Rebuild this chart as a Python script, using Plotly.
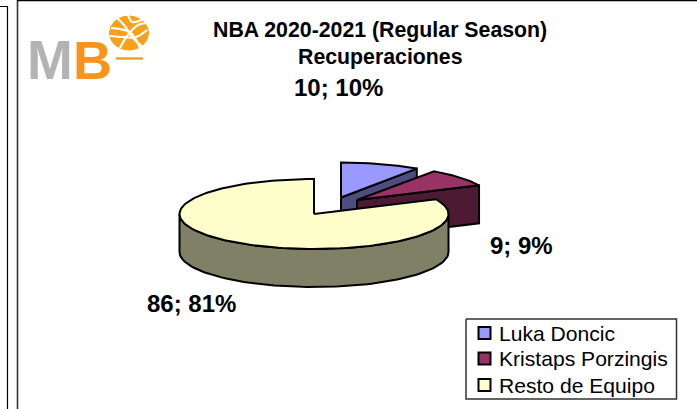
import numpy as np
import plotly.graph_objects as go

categories = ["Luka Doncic", "Kristaps Porzingis", "Resto de Equipo"]
values = [10, 9, 86]
percent_labels = ["10%", "9%", "81%"]

top_colors = ["#9999FF", "#993366", "#FFFFCC"]
side_colors = ["#4D4D80", "#4D1A33", "#808066"]
centers = [(341, 197.5), (357, 200), (314, 214)]
label_pos = [(338, 87), (521, 245), (191, 303)]
legend_rows = [333, 358.5, 385]
RX, RY, DEPTH = 134.5, 35, 38
FONT = "Liberation Sans"

fig = go.Figure()


def pt(c, deg, dz=0):
    t = np.radians(deg)
    return c[0] + RX * np.sin(t), c[1] - RY * np.cos(t) + dz


def poly(xs, ys, fill):
    fig.add_trace(go.Scatter(
        x=xs, y=ys, mode="lines", fill="toself", fillcolor=fill,
        line=dict(color="black", width=2), showlegend=False, hoverinfo="skip"))


total = sum(values)
edges = np.concatenate([[0], np.cumsum(values)]) * 360 / total
for i, cat in enumerate(categories):
    a, b, c = edges[i], edges[i + 1], centers[i]
    ex, ey = pt(c, b)
    if i < 2:
        poly([c[0], ex, ex, c[0], c[0]],
             [c[1], ey, ey + DEPTH, c[1] + DEPTH, c[1]], side_colors[i])
    lo, hi = max(a, 90), min(b, 270)
    if hi > lo:
        th = np.linspace(lo, hi, 90)
        up = [pt(c, d) for d in th]
        dn = [pt(c, d, DEPTH) for d in th[::-1]]
        pts = up + dn + [up[0]]
        poly([p[0] for p in pts], [p[1] for p in pts], side_colors[i])
    th = np.linspace(a, b, 180)
    rim = [pt(c, d) for d in th]
    poly([c[0]] + [p[0] for p in rim] + [c[0]],
         [c[1]] + [p[1] for p in rim] + [c[1]], top_colors[i])

# logo ball
th = np.linspace(0, 2 * np.pi, 80)
fig.add_trace(go.Scatter(x=129 + 19.5 * np.cos(th), y=33 + 17 * np.sin(th), mode="lines",
                         fill="toself", fillcolor="#F7A11A", line=dict(color="#F7A11A", width=1),
                         showlegend=False, hoverinfo="skip"))
seams = [
    ([117, 124, 133, 143], [18, 25, 38, 47]),
    ([111, 120, 131, 140], [28, 29, 33, 48]),
    ([110, 122, 136, 147], [36, 37, 37, 30]),
    ([120, 127, 138, 146], [48, 36, 25, 23]),
    ([128, 132, 139, 143], [15, 22, 21, 19]),
]
for sx, sy in seams:
    fig.add_trace(go.Scatter(x=sx, y=sy, mode="lines", line=dict(color="white", width=2.2, shape="spline"),
                             showlegend=False, hoverinfo="skip"))
fig.add_trace(go.Scatter(x=[116, 143], y=[58.5, 58.5], mode="lines", line=dict(color="#F7A11A", width=2.5),
                         showlegend=False, hoverinfo="skip"))

# page frames
for xs, ys, col, w in [([0, 7.5, 7.5], [6.5, 6.5, 409], "black", 1.2),
                       ([17.5, 17.5], [409, 0], "#333333", 1.6),
                       ([17.5, 697], [0.5, 0.5], "black", 1.6)]:
    fig.add_trace(go.Scatter(x=xs, y=ys, mode="lines", line=dict(color=col, width=w),
                             showlegend=False, hoverinfo="skip"))

# legend box
fig.add_trace(go.Scatter(x=[466, 676.5, 676.5, 466, 466], y=[319, 319, 399, 399, 319], mode="lines",
                         line=dict(color="#333333", width=1.5), showlegend=False, hoverinfo="skip"))
for cat, col, row in zip(categories, top_colors, legend_rows):
    fig.add_trace(go.Scatter(x=[484.5], y=[row], mode="markers", name=cat, showlegend=False, hoverinfo="skip",
                             marker=dict(symbol="square", size=12, color=col, line=dict(color="black", width=2))))

ann = [dict(x=380, y=30, text="<b>NBA 2020-2021 (Regular Season)</b>", font=dict(size=21.3, family=FONT, color="black")),
       dict(x=380, y=57, text="<b>Recuperaciones</b>", font=dict(size=21.3, family=FONT, color="black"))]
for (x, y), v, p in zip(label_pos, values, percent_labels):
    ann.append(dict(x=x, y=y, text="<b>%d; %s</b>" % (v, p), font=dict(size=24, family=FONT, color="black")))
ann.append(dict(x=50, y=60, text="<b>M</b>", font=dict(size=55, family=FONT, color="#B3B3B3")))
ann.append(dict(x=92, y=60, text="<b>B</b>", font=dict(size=54, family=FONT, color="#F7941D")))
for a in ann:
    a.update(xanchor="center")
for cat, row in zip(categories, legend_rows):
    ann.append(dict(x=497, y=row, text=cat, xanchor="left", font=dict(size=21.1, family=FONT, color="black")))
for a in ann:
    a.update(xref="x", yref="y", showarrow=False, yanchor="middle")

fig.update_layout(
    width=697, height=409, margin=dict(l=0, r=0, t=0, b=0),
    paper_bgcolor="white", plot_bgcolor="white", annotations=ann, showlegend=False,
    xaxis=dict(range=[0, 697], visible=False, fixedrange=True),
    yaxis=dict(range=[409, 0], visible=False, fixedrange=True),
)
fig.write_html("out.html", config={"displayModeBar": False},
               post_script="document.body.style.margin='0';document.body.style.overflow='hidden';")
